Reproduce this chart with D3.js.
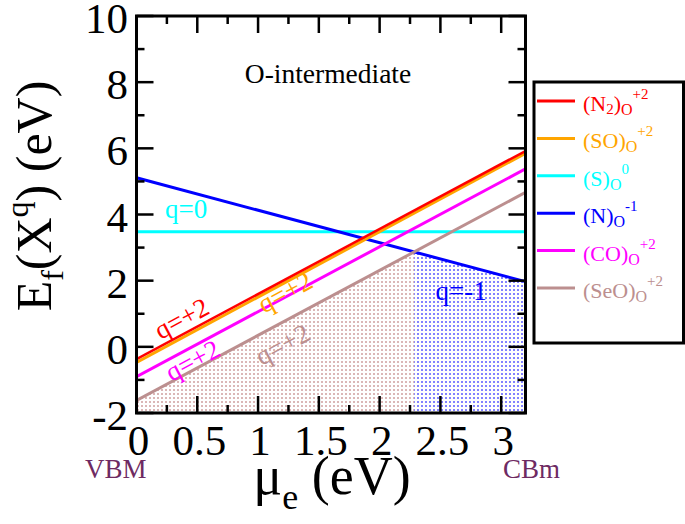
<!DOCTYPE html>
<html>
<head>
<meta charset="utf-8">
<script src="https://cdn.jsdelivr.net/npm/d3@7"></script>
<style>
  html, body { margin: 0; padding: 0; background: #fff; }
  svg { display: block; }
  text { font-family: 'Liberation Serif', 'Times New Roman', Times, serif; }
</style>
</head>
<body>
<svg id="chart" width="685" height="524" font-family="Liberation Serif, Times New Roman, Times, serif"></svg>
<script>
// ---------- data ----------
const defects   = ["N2", "SO", "S", "N", "CO", "SeO"];
const charges   = [2, 2, 0, -1, 2, 2];
const eAtVBM    = [-0.37, -0.47, 3.48, 5.11, -0.90, -1.62];   // E_f at mu_e = 0
const eAtCBm    = [5.92, 5.85, 3.48, 1.97, 5.38, 4.67];       // E_f at mu_e = 3.2
const colors    = ["#ff0000", "#ffa500", "#00ffff", "#0000ff", "#ff00ff", "#bc8f8f"];
const muRange   = [0, 3.2];
const eRange    = [-2, 10];
const xTickVals = [0, 0.5, 1, 1.5, 2, 2.5, 3];
const xTickText = ["0", "0.5", "1", "1.5", "2", "2.5", "3"];
const yTickVals = [-2, 0, 2, 4, 6, 8, 10];
const yTickText = ["-2", "0", "2", "4", "6", "8", "10"];
const xMinor    = [0.25, 0.75, 1.25, 1.75, 2.25, 2.75, 3.25].filter(v => v < 3.2);
const yMinor    = [-1, 1, 3, 5, 7, 9];
// charge-label annotations: [series index, mu, E]
const qLabels   = [[0, 0.37, 0.87], [1, 1.22, 1.66], [4, 0.46, -0.40], [5, 1.20, 0.08]];

// ---------- layout ----------
const FONT = "Liberation Serif, Times New Roman, Times, serif";
const L = 136.5, R = 525.5, T = 16, B = 413;
const svg = d3.select("#chart");
const x = d3.scaleLinear().domain(muRange).range([L, R]);
const y = d3.scaleLinear().domain(eRange).range([B, T]);

const series = defects.map((d, i) => ({
  name: d, q: charges[i], color: colors[i],
  pts: [[muRange[0], eAtVBM[i]], [muRange[1], eAtCBm[i]]]
}));
const lineVal = (s, m) => s.pts[0][1] + (s.pts[1][1] - s.pts[0][1]) * (m - s.pts[0][0]) / (s.pts[1][0] - s.pts[0][0]);

// ---------- patterns ----------
const defs = svg.append("defs");
function dotPattern(id, col, op) {
  const p = defs.append("pattern").attr("id", id).attr("patternUnits", "userSpaceOnUse")
    .attr("width", 4).attr("height", 4);
  p.append("rect").attr("x", 1).attr("y", 1).attr("width", 2).attr("height", 2)
    .attr("fill", col).attr("opacity", op);
}
dotPattern("dotBrown", "#b06060", 0.45);
dotPattern("dotBlue", "#3030ff", 0.6);
defs.append("clipPath").attr("id", "plotClip").append("rect")
  .attr("x", L).attr("y", T).attr("width", R - L).attr("height", B - T);

// ---------- shaded lowest-energy regions ----------
const brown = series[5], blue = series[3];
const slopeB = (brown.pts[1][1] - brown.pts[0][1]) / (brown.pts[1][0] - brown.pts[0][0]);
const slopeN = (blue.pts[1][1] - blue.pts[0][1]) / (blue.pts[1][0] - blue.pts[0][0]);
const muCross = (blue.pts[0][1] - brown.pts[0][1]) / (slopeB - slopeN);
const areaFn = (s, a, b) => d3.area().x(d => x(d)).y0(y(eRange[0])).y1(d => y(lineVal(s, d)))([a, b]);
const plot = svg.append("g").attr("clip-path", "url(#plotClip)");
plot.append("path").attr("d", areaFn(brown, muRange[0], muCross)).attr("fill", "url(#dotBrown)");
plot.append("path").attr("d", areaFn(blue, muCross, muRange[1])).attr("fill", "url(#dotBlue)");

// ---------- lines ----------
const line = d3.line().x(d => x(d[0])).y(d => y(d[1]));
const drawOrder = [2, 3, 5, 4, 1, 0];
drawOrder.forEach(i => {
  plot.append("path").attr("d", line(series[i].pts))
    .attr("fill", "none").attr("stroke", series[i].color).attr("stroke-width", i === 0 ? 2.5 : 3);
});

function txt(sel) { return sel.append("text").attr("font-family", FONT); }

// ---------- charge labels ----------
qLabels.forEach(([i, m, e]) => {
  const s = series[i];
  const ang = Math.atan2(y(s.pts[1][1]) - y(s.pts[0][1]), x(s.pts[1][0]) - x(s.pts[0][0])) * 180 / Math.PI;
  txt(svg).attr("transform", `translate(${x(m)},${y(e)}) rotate(${ang})`)
    .attr("text-anchor", "middle").attr("dy", "0.35em")
    .attr("font-size", 27).attr("fill", s.color).text("q=+" + s.q);
});
txt(svg).attr("x", x(0.235)).attr("y", y(3.9)).attr("font-size", 27)
  .attr("fill", series[2].color).text("q=" + series[2].q);
txt(svg).attr("x", x(2.46)).attr("y", y(1.42)).attr("font-size", 27)
  .attr("fill", series[3].color).text("q=" + series[3].q);

txt(svg).attr("x", (L + R) / 2 - 3).attr("y", 83).attr("text-anchor", "middle")
  .attr("font-size", 27.5).attr("fill", "#000").text("O-intermediate");

// ---------- frame & ticks ----------
const ax = svg.append("g").attr("stroke", "#000").attr("stroke-width", 2.5);
xTickVals.concat(xMinor).forEach(v => {
  const len = xTickVals.includes(v) ? 17 : 8;
  ax.append("line").attr("x1", x(v)).attr("x2", x(v)).attr("y1", B).attr("y2", B - len);
  ax.append("line").attr("x1", x(v)).attr("x2", x(v)).attr("y1", T).attr("y2", T + len);
});
yTickVals.concat(yMinor).forEach(v => {
  const len = yTickVals.includes(v) ? 17 : 8;
  ax.append("line").attr("y1", y(v)).attr("y2", y(v)).attr("x1", L).attr("x2", L + len);
  ax.append("line").attr("y1", y(v)).attr("y2", y(v)).attr("x1", R).attr("x2", R - len);
});
svg.append("rect").attr("x", L).attr("y", T).attr("width", R - L).attr("height", B - T)
  .attr("fill", "none").attr("stroke", "#000").attr("stroke-width", 3);

// tick labels
xTickVals.forEach((v, i) => {
  txt(svg).attr("x", x(v) + 2).attr("y", 455).attr("text-anchor", "middle")
    .attr("font-size", 43).text(xTickText[i]);
});
yTickVals.forEach((v, i) => {
  txt(svg).attr("x", 128).attr("y", y(v) + 17).attr("text-anchor", "end")
    .attr("font-size", 43).text(yTickText[i]);
});

// axis titles
const xt = txt(svg).attr("x", 332).attr("y", 494).attr("text-anchor", "middle").attr("font-size", 54);
xt.append("tspan").text("μ");
xt.append("tspan").attr("font-size", 36).attr("dy", 15).text("e");
xt.append("tspan").attr("dy", -15).text(" (eV)");

const yt = txt(svg).attr("transform", "translate(51,196) rotate(-90)")
  .attr("text-anchor", "middle").attr("font-size", 50);
yt.append("tspan").text("E");
yt.append("tspan").attr("font-size", 32).attr("dy", 12).text("f");
yt.append("tspan").attr("dy", -12).text("(X");
yt.append("tspan").attr("font-size", 32).attr("dy", -23).text("q");
yt.append("tspan").attr("dy", 23).text(") (eV)");

txt(svg).attr("x", 85).attr("y", 478).attr("font-size", 27).attr("fill", "#6e2a62").text("VBM");
txt(svg).attr("x", 503).attr("y", 478).attr("font-size", 27).attr("fill", "#6e2a62").text("CBm");

// ---------- legend ----------
svg.append("rect").attr("x", 534).attr("y", 82).attr("width", 149.5).attr("height", 261)
  .attr("fill", "#fff").attr("stroke", "#000").attr("stroke-width", 3);
const legY = d3.scaleLinear().domain([0, series.length - 1]).range([101, 288]);
series.forEach((s, i) => {
  const yy = legY(i);
  svg.append("line").attr("x1", 537).attr("x2", 575).attr("y1", yy).attr("y2", yy)
    .attr("stroke", s.color).attr("stroke-width", 3);
  const t = txt(svg).attr("x", 583).attr("y", yy + 10).attr("font-size", 22).attr("fill", s.color);
  if (s.name === "N2") {
    t.append("tspan").text("(N");
    t.append("tspan").attr("font-size", 15).attr("dy", 3).text("2");
    t.append("tspan").attr("dy", -3).text(")");
  } else {
    t.append("tspan").text("(" + s.name + ")");
  }
  t.append("tspan").attr("font-size", 16).attr("dy", 4).text("O");
  t.append("tspan").attr("font-size", 15).attr("dy", -16).text(s.q > 0 ? "+" + s.q : String(s.q));
});
</script>
</body>
</html>
